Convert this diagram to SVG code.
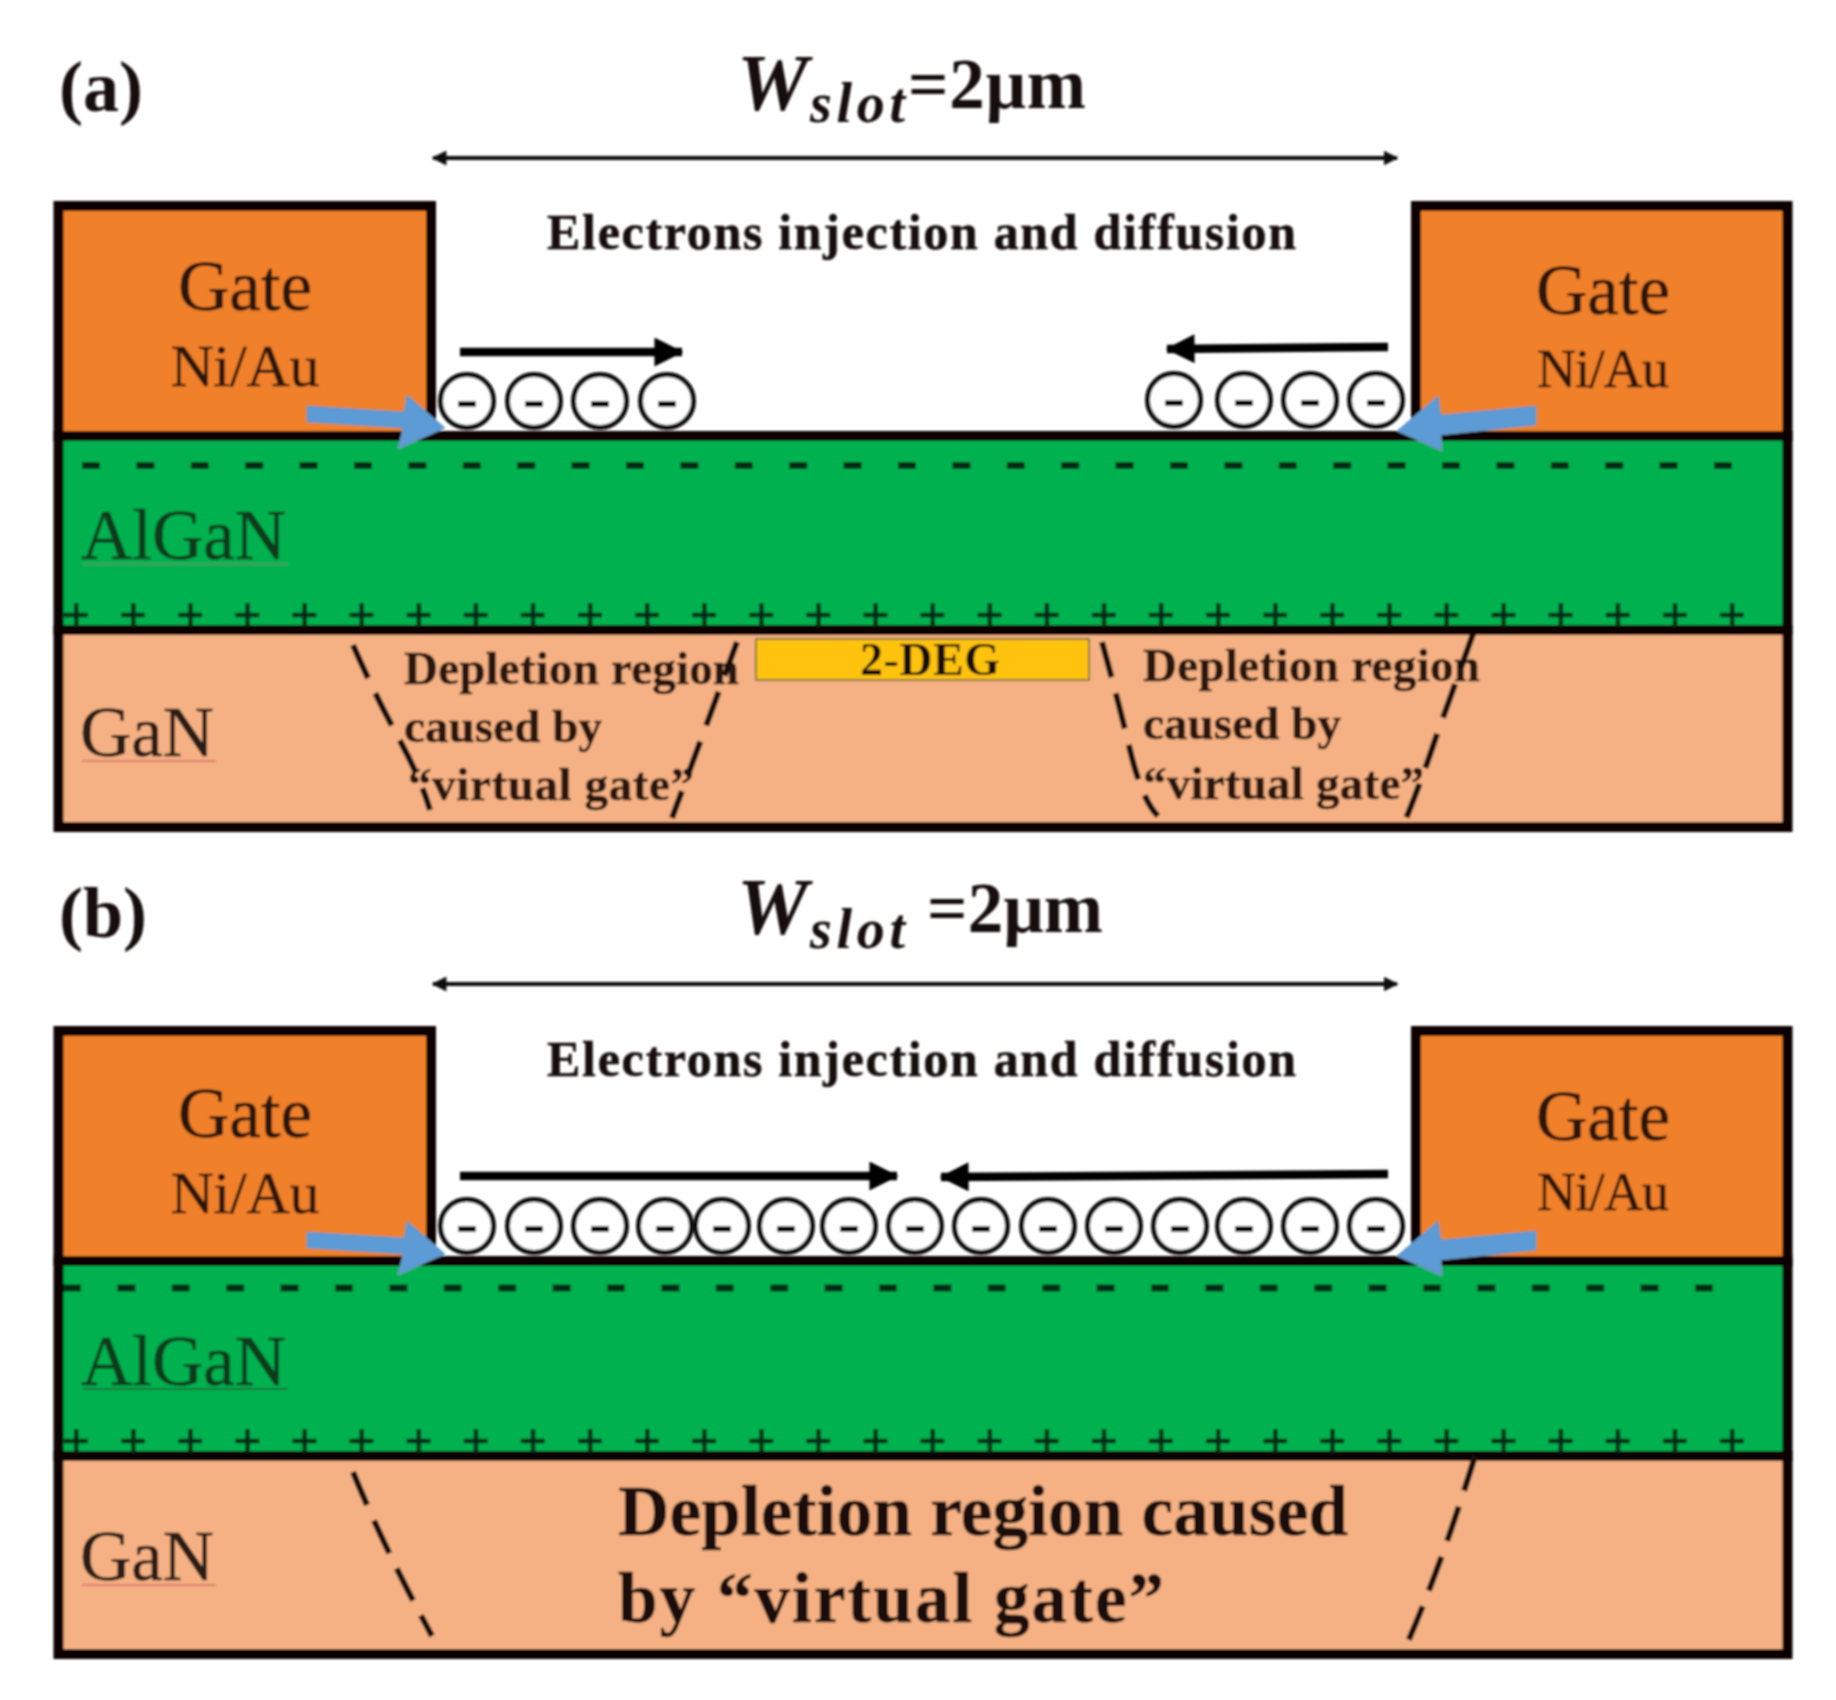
<svg xmlns="http://www.w3.org/2000/svg" xmlns:xlink="http://www.w3.org/1999/xlink" width="1836" height="1700" viewBox="0 0 1836 1700">
<style>
text{font-family:"Liberation Serif","Times New Roman",serif;fill:#17100c}
.b{font-weight:700}
.lab{font-weight:700;font-size:72px}
.w{font-weight:700;font-style:italic;font-size:80px}
.sub{font-weight:700;font-style:italic;font-size:56px}
.eq{font-weight:700;font-size:71px}
.inj{font-weight:700;font-size:50px;stroke:#17100c;stroke-width:.5}
.gt{font-size:71px;fill:#2b1408;stroke:#2b1408;stroke-width:.6}
.ni{font-size:60px;fill:#2b1408;stroke:#2b1408;stroke-width:.5}
.nir{font-size:54px;fill:#2b1408;stroke:#2b1408;stroke-width:.5}
.mat{font-size:71px;fill:#0b3a1e;stroke:#0b3a1e;stroke-width:.6}
.gan{font-size:71px;fill:#2a1a12;stroke:#2a1a12;stroke-width:.6}
.dep{font-weight:700;font-size:47px;fill:#2a1710;stroke:#2a1710;stroke-width:.5}
.big{font-weight:700;font-size:71px;fill:#1c0f08;stroke:#1c0f08;stroke-width:.5}
.box{stroke:#0a0606;stroke-width:10}
.gate{fill:#F08029}
.algan{fill:#00B24F}
.ganf{fill:#F5B183}
.blue{fill:#5B9BD5;stroke:#6f93b5;stroke-width:1}
.dim{stroke:#111;stroke-width:4;fill:none;marker-start:url(#sm);marker-end:url(#sm)}
.flow{stroke:#000;stroke-width:8.5;fill:none;marker-end:url(#lg)}
.dash{stroke:#120c08;stroke-width:6;fill:none;stroke-dasharray:36 17}
.e circle{fill:#fff;stroke:#0c0c0c;stroke-width:5}
.e line{stroke:#0c0c0c;stroke-width:6}
.neg{stroke:#052c15;stroke-width:7;stroke-dasharray:18 36.4;fill:none}
.ph{stroke:#052c15;stroke-width:4.5;stroke-dasharray:24 33.1;fill:none}
.pv{stroke:#052c15;stroke-width:24;stroke-dasharray:4.5 52.6;fill:none}
</style>
<defs>
<marker id="sm" viewBox="0 0 10 10" refX="9" refY="5" markerUnits="userSpaceOnUse" markerWidth="15" markerHeight="15" orient="auto-start-reverse"><path d="M0 0L10 5L0 10z" fill="#111"/></marker>
<marker id="lg" viewBox="0 0 10 10" refX="9.5" refY="5" markerUnits="userSpaceOnUse" markerWidth="30" markerHeight="29" orient="auto"><path d="M0 0L10 5L0 10z" fill="#000"/></marker>
<g id="electron" class="e"><circle r="26.5"/><line x1="-9" x2="9" y1="3" y2="3"/></g>
<g id="pluses"><line class="ph" x1="64" x2="1746" y1="0" y2="0"/><line class="pv" x1="74" x2="1746" y1="0" y2="0"/></g>
<filter id="soft" filterUnits="userSpaceOnUse" x="0" y="0" width="1836" height="1700"><feGaussianBlur stdDeviation="0.9"/></filter>
</defs>
<rect width="1836" height="1700" fill="#fff"/>
<g filter="url(#soft)">

<g id="panel-a">
<text id="label-a" class="lab" x="59" y="111">(a)</text>
<g id="wslot-a"><text class="w" x="737" y="110">W</text><text class="sub" x="810" y="122" textLength="95">slot</text><text class="eq" x="908" y="108" textLength="178">=2μm</text></g>
<text id="inj-a" class="inj" x="547" y="249" textLength="749">Electrons injection and diffusion</text>
<g id="gan-a"><rect class="box ganf" x="58.5" y="630" width="1729" height="197"/><text class="gan" x="80" y="756">GaN</text><line x1="82" x2="216" y1="761" y2="761" stroke="#dc7d6e" stroke-width="2"/></g>
<g id="algan-a"><rect class="box algan" x="58.5" y="436" width="1729" height="194"/><text class="mat" x="81" y="559">AlGaN</text><line x1="83" x2="288" y1="564" y2="564" stroke="#3e9d5e" stroke-width="2"/>
<line class="neg" x1="82" x2="1740" y1="465.5" y2="465.5"/><use href="#pluses" y="615"/></g>
<g id="gate-a-left"><rect class="box gate" x="58.5" y="206" width="372.5" height="230"/><text class="gt" x="245" y="310" text-anchor="middle">Gate</text><text class="ni" x="245" y="386" text-anchor="middle" textLength="149">Ni/Au</text></g>
<g id="gate-a-right"><rect class="box gate" x="1416" y="206" width="371.5" height="230"/><text class="gt" x="1603" y="314" text-anchor="middle">Gate</text><text class="nir" x="1603" y="387" text-anchor="middle" textLength="132">Ni/Au</text></g>
<g id="deg-a"><rect x="756" y="639" width="333" height="41" fill="#FFC20A" stroke="#8a7a3a" stroke-width="2"/><text class="b" x="860" y="675" font-size="46" textLength="140">2-DEG</text></g>
<g id="dep-a-left"><text class="dep" x="404" y="684" textLength="335">Depletion region</text><text class="dep" x="404" y="742" textLength="198">caused by</text><text class="dep" x="408" y="800" textLength="286">“virtual gate”</text></g>
<g id="dep-a-right"><text class="dep" x="1143" y="681" textLength="337">Depletion region</text><text class="dep" x="1143" y="739" textLength="198">caused by</text><text class="dep" x="1143" y="799" textLength="281">“virtual gate”</text></g>
<g id="electrons-a"><use href="#electron" x="467" y="401"/><use href="#electron" x="534" y="401"/><use href="#electron" x="600" y="401"/><use href="#electron" x="667" y="401"/><use href="#electron" x="1174" y="400"/><use href="#electron" x="1244" y="400"/><use href="#electron" x="1310" y="400"/><use href="#electron" x="1376" y="400"/></g>
</g>

<g id="panel-b">
<text id="label-b" class="lab" x="59" y="937">(b)</text>
<g id="wslot-b"><text class="w" x="737" y="934">W</text><text class="sub" x="810" y="948" textLength="95">slot</text><text class="eq" x="927" y="932" textLength="176">=2μm</text></g>
<text id="inj-b" class="inj" x="547" y="1076" textLength="749">Electrons injection and diffusion</text>
<g id="gan-b"><rect class="box ganf" x="58.5" y="1456" width="1729" height="198"/><text class="gan" x="80" y="1580">GaN</text><line x1="82" x2="216" y1="1585" y2="1585" stroke="#dc7d6e" stroke-width="2"/><text class="big" x="618" y="1535" textLength="730">Depletion region caused</text><text class="big" x="618" y="1622" textLength="546">by “virtual gate”</text></g>
<g id="algan-b"><rect class="box algan" x="58.5" y="1261" width="1729" height="195"/><text class="mat" x="81" y="1385">AlGaN</text><line x1="83" x2="288" y1="1389" y2="1389" stroke="#17703a" stroke-width="2"/>
<line class="neg" x1="63" x2="1722" y1="1288" y2="1288"/><use href="#pluses" y="1441"/></g>
<g id="gate-b-left"><rect class="box gate" x="58.5" y="1031" width="372.5" height="230"/><text class="gt" x="245" y="1137" text-anchor="middle">Gate</text><text class="ni" x="245" y="1213" text-anchor="middle" textLength="149">Ni/Au</text></g>
<g id="gate-b-right"><rect class="box gate" x="1416" y="1031" width="371.5" height="230"/><text class="gt" x="1603" y="1140" text-anchor="middle">Gate</text><text class="nir" x="1603" y="1210" text-anchor="middle" textLength="132">Ni/Au</text></g>
<g id="electrons-b"><use href="#electron" x="467" y="1226"/><use href="#electron" x="534" y="1226"/><use href="#electron" x="600" y="1226"/><use href="#electron" x="665" y="1226"/><use href="#electron" x="722" y="1226"/><use href="#electron" x="786" y="1226"/><use href="#electron" x="849" y="1226"/><use href="#electron" x="915" y="1226"/><use href="#electron" x="981" y="1226"/><use href="#electron" x="1048" y="1226"/><use href="#electron" x="1114" y="1226"/><use href="#electron" x="1180" y="1226"/><use href="#electron" x="1244" y="1226"/><use href="#electron" x="1310" y="1226"/><use href="#electron" x="1376" y="1226"/></g>
</g>

<g id="connectors">
<line class="dim" x1="433" y1="158" x2="1397" y2="158"/>
<line class="dim" x1="433" y1="984" x2="1397" y2="984"/>
<line class="flow" x1="460" y1="352" x2="682" y2="352"/>
<line class="flow" x1="1388" y1="347" x2="1167" y2="349"/>
<line class="flow" x1="460" y1="1176" x2="897" y2="1176"/>
<line class="flow" x1="1388" y1="1174" x2="941" y2="1177"/>
<polygon class="blue" points="307,406 404,412 407,395 445,428 398,449 403,428 307,422"/>
<polygon class="blue" points="1397,431 1438,396 1441,415 1536,406 1536,425 1441,435 1442,451"/>
<polygon class="blue" transform="translate(0 826)" points="307,406 404,412 407,395 445,428 398,449 403,428 307,422"/>
<polygon class="blue" transform="translate(0 825)" points="1397,431 1438,396 1441,415 1536,406 1536,425 1441,435 1442,451"/>
<path class="dash" d="M353 645Q375 695 398 737T430 810"/>
<path class="dash" d="M737 642L672 818"/>
<path class="dash" d="M1102 642Q1118 700 1130 750T1158 816"/>
<path class="dash" d="M1473 634L1435 740Q1420 785 1403 826"/>
<path class="dash" d="M353 1472Q385 1550 432 1636"/>
<path class="dash" d="M1475 1456Q1440 1570 1403 1653"/>
</g>
</g>
</svg>
